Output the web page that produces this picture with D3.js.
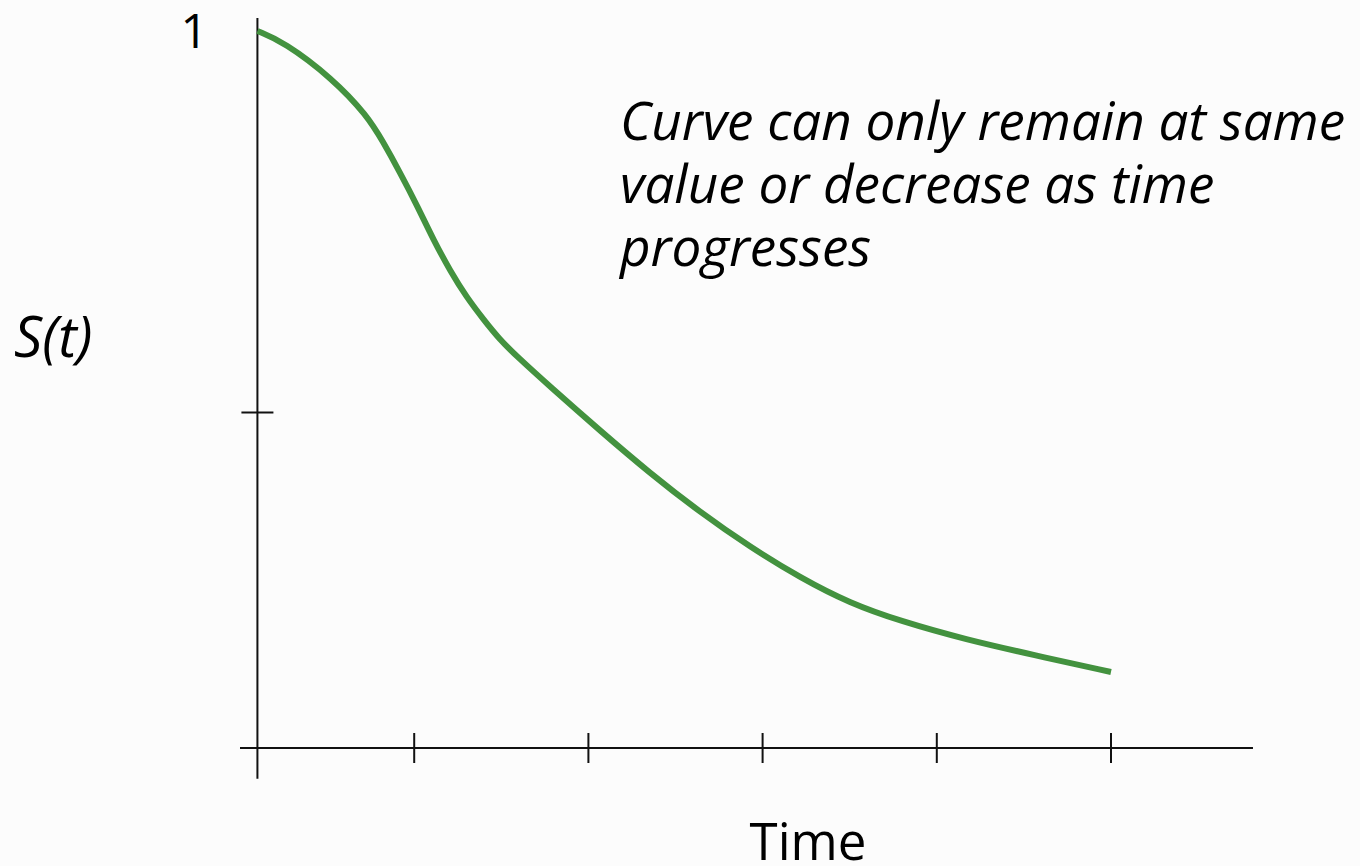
<!DOCTYPE html>
<meta charset="utf-8">
<script src="https://d3js.org/d3.v7.min.js"></script>
<style>
  body { margin: 0; background: #fcfcfc; }
  text { font-family: "Open Sans", sans-serif; fill: #000; }
</style>
<body>
<svg id="chart" width="1360" height="866"></svg>
<script>
    // survival curve
    const time = [0.1, 0.25, 0.53, 0.73, 0.82, 0.92, 1.02, 1.11, 1.21, 1.3, 1.4, 1.49, 1.59, 1.78, 2.07, 2.35, 2.64, 2.93, 3.22, 3.5, 3.79, 4.17, 4.55, 5.0];
    const surv = [1.0, 0.985, 0.934, 0.882, 0.846, 0.802, 0.755, 0.709, 0.664, 0.629, 0.597, 0.570, 0.546, 0.504, 0.442, 0.384, 0.329, 0.28, 0.237, 0.202, 0.177, 0.151, 0.13, 0.106];
    const xTicks = [1, 2, 3, 4, 5];
    const yTicks = [0.468];
    const note = ["Curve can only remain at same", "value or decrease as time", "progresses"];

    const svg = d3.select("#chart");

    const x = d3.scaleLinear().domain([0, 5]).range([240, 1111]);
    const y = d3.scaleLinear().domain([0, 1]).range([748, 31]);

    const x0 = 0.1;   // where the y axis sits
    const axis = svg.append("g").attr("stroke", "#111").attr("stroke-width", 2);

    // horizontal axis + ticks
    axis.append("line")
        .attr("x1", x(0)).attr("x2", x(5.815))
        .attr("y1", y(0)).attr("y2", y(0));
    axis.selectAll(".xt").data(xTicks).join("line")
        .attr("x1", d => x(d)).attr("x2", d => x(d))
        .attr("y1", y(0) - 15).attr("y2", y(0) + 15);

    // vertical axis + tick
    axis.append("line")
        .attr("x1", x(x0)).attr("x2", x(x0))
        .attr("y1", y(1.018)).attr("y2", y(-0.043));
    axis.selectAll(".yt").data(yTicks).join("line")
        .attr("x1", x(x0) - 16).attr("x2", x(x0) + 16)
        .attr("y1", d => y(d)).attr("y2", d => y(d));

    // the curve
    const pts = time.map((t, i) => [t, surv[i]]);
    svg.append("path")
        .datum(pts)
        .attr("fill", "none")
        .attr("stroke", "#43923f")
        .attr("stroke-width", 6)
        .attr("d", d3.line().x(d => x(d[0])).y(d => y(d[1])).curve(d3.curveBasis));

    // labels
    svg.append("text").attr("x", 208).attr("y", 48)
        .attr("text-anchor", "end").attr("font-size", 48).text("1");
    svg.append("text").attr("x", 14).attr("y", 357)
        .attr("font-size", 56).attr("font-style", "italic").text("S(t)");
    svg.append("text").attr("x", 808).attr("y", 860)
        .attr("text-anchor", "middle").attr("font-size", 51).text("Time");

    svg.append("g").selectAll("text").data(note).join("text")
        .attr("x", 620).attr("y", (d, i) => 140 + i * 63)
        .attr("font-size", 53).attr("font-style", "italic")
        .text(d => d);
</script>
</body>
